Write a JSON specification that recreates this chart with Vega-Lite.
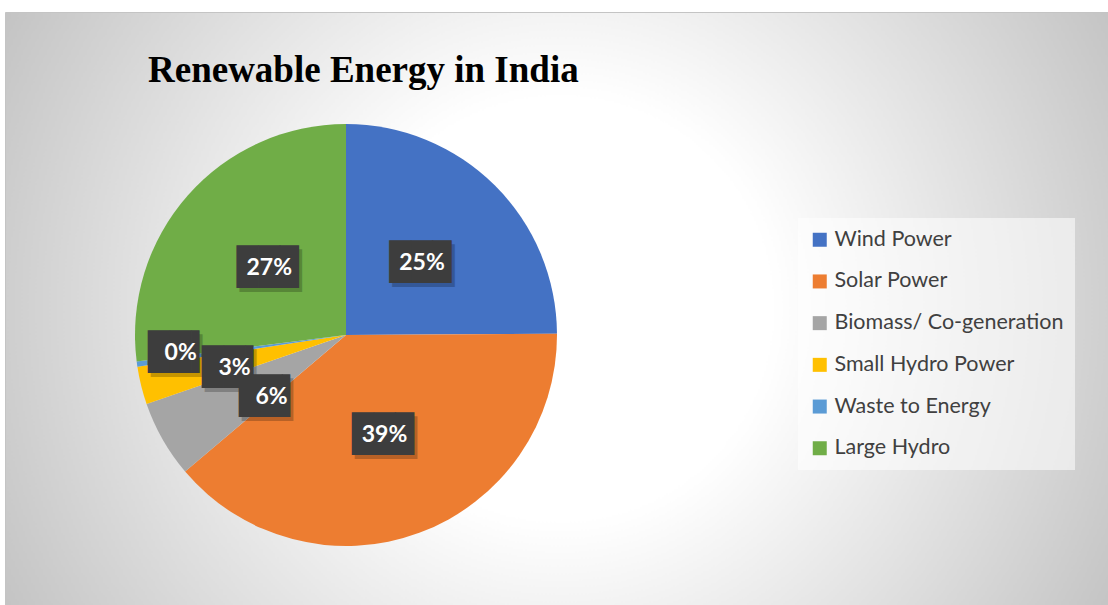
{
  "$schema": "https://vega.github.io/schema/vega-lite/v6.json",
  "width": 1103,
  "height": 593,
  "autosize": {"type": "none"},
  "padding": {"left": 5, "top": 12, "right": 0, "bottom": 0},
  "background": "#ffffff",
  "view": {
    "stroke": "#c4c4c4",
    "strokeWidth": 1,
    "fill": {
      "gradient": "radial",
      "x1": 0.503, "y1": 0.5, "r1": 0,
      "x2": 0.503, "y2": 0.5, "r2": 0.58,
      "stops": [
        {"offset": 0, "color": "#ffffff"},
        {"offset": 0.33, "color": "#ffffff"},
        {"offset": 1, "color": "#c2c2c2"}
      ]
    }
  },
  "title": {
    "text": "Renewable Energy in India",
    "font": "Liberation Serif",
    "fontSize": 37,
    "fontWeight": "bold",
    "color": "#000000",
    "anchor": "start",
    "frame": "group",
    "orient": "top",
    "offset": 0,
    "baseline": "alphabetic",
    "dx": 143,
    "dy": 107
  },
  "data": {
    "values": [
      {"id": 1, "Source": "Wind Power", "Share": 0.249},
      {"id": 2, "Source": "Solar Power", "Share": 0.389},
      {"id": 3, "Source": "Biomass/ Co-generation", "Share": 0.059},
      {"id": 4, "Source": "Small Hydro Power", "Share": 0.029},
      {"id": 5, "Source": "Waste to Energy", "Share": 0.004},
      {"id": 6, "Source": "Large Hydro", "Share": 0.270}
    ]
  },
  "encoding": {
    "theta": {"field": "Share", "type": "quantitative", "stack": true},
    "order": {"field": "id", "type": "quantitative"}
  },
  "layer": [
    {
      "mark": {"type": "arc", "outerRadius": 211, "x": 341, "y": 323},
      "encoding": {
        "color": {
          "field": "Source",
          "type": "nominal",
          "scale": {
            "domain": ["Wind Power", "Solar Power", "Biomass/ Co-generation", "Small Hydro Power", "Waste to Energy", "Large Hydro"],
            "range": ["#4472C4", "#ED7D31", "#A5A5A5", "#FFC000", "#5B9BD5", "#70AD47"]
          },
          "legend": {
            "title": null,
            "orient": "none",
            "legendX": 793,
            "legendY": 206,
            "padding": 11,
            "fillColor": "rgba(255,255,255,0.55)",
            "symbolType": "square",
            "symbolSize": 196,
            "symbolStrokeWidth": 0,
            "symbolOpacity": 1,
            "labelFont": "Lato",
            "labelFontSize": 21.5,
            "labelColor": "#404040",
            "labelOffset": 4,
            "labelLimit": 400,
            "rowPadding": 18.7
          }
        }
      }
    },
    {
      "mark": {
        "type": "text", "x": 341, "y": 323,
        "radius": {"expr": "datum.id == 5 ? 171 : datum.id == 4 ? 123 : datum.id == 3 ? 103 : 105"},
        "dx": {"expr": "(datum.id == 3 ? 15 : datum.id == 4 ? 8 : datum.id == 5 ? 4 : 2) + 3"},
        "dy": {"expr": "(datum.id == 3 ? 11 : datum.id == 4 ? 4 : datum.id == 5 ? -6 : 2) + 4"},
        "text": {"expr": "datum.Share >= 0.095 ? '██▉' : '██▍'"},
        "font": "DejaVu Sans Mono", "fontSize": 36,
        "align": "center", "baseline": "middle",
        "fill": "#000000", "opacity": 0.22
      },
      "encoding": {"detail": {"field": "Source", "type": "nominal"}}
    },
    {
      "mark": {
        "type": "text", "x": 341, "y": 323,
        "radius": {"expr": "datum.id == 5 ? 171 : datum.id == 4 ? 123 : datum.id == 3 ? 103 : 105"},
        "dx": {"expr": "datum.id == 3 ? 15 : datum.id == 4 ? 8 : datum.id == 5 ? 4 : 2"},
        "dy": {"expr": "datum.id == 3 ? 11 : datum.id == 4 ? 4 : datum.id == 5 ? -6 : 2"},
        "text": {"expr": "datum.Share >= 0.095 ? '██▉' : '██▍'"},
        "font": "DejaVu Sans Mono", "fontSize": 36,
        "align": "center", "baseline": "middle",
        "fill": "#3d3d3d"
      },
      "encoding": {"detail": {"field": "Source", "type": "nominal"}}
    },
    {
      "mark": {
        "type": "text", "x": 341, "y": 323,
        "radius": {"expr": "datum.id == 5 ? 171 : datum.id == 4 ? 123 : datum.id == 3 ? 103 : 105"},
        "dx": {"expr": "datum.id == 3 ? 15 : datum.id == 4 ? 8 : datum.id == 5 ? 4 : 2"},
        "dy": {"expr": "datum.id == 3 ? 11 : datum.id == 4 ? 4 : datum.id == 5 ? -6 : 2"},
        "font": "Lato", "fontSize": 23, "fontWeight": "bold",
        "align": "center", "baseline": "middle",
        "fill": "#ffffff"
      },
      "encoding": {
        "detail": {"field": "Source", "type": "nominal"},
        "text": {"field": "Share", "type": "quantitative", "format": ".0%"}
      }
    }
  ]
}
